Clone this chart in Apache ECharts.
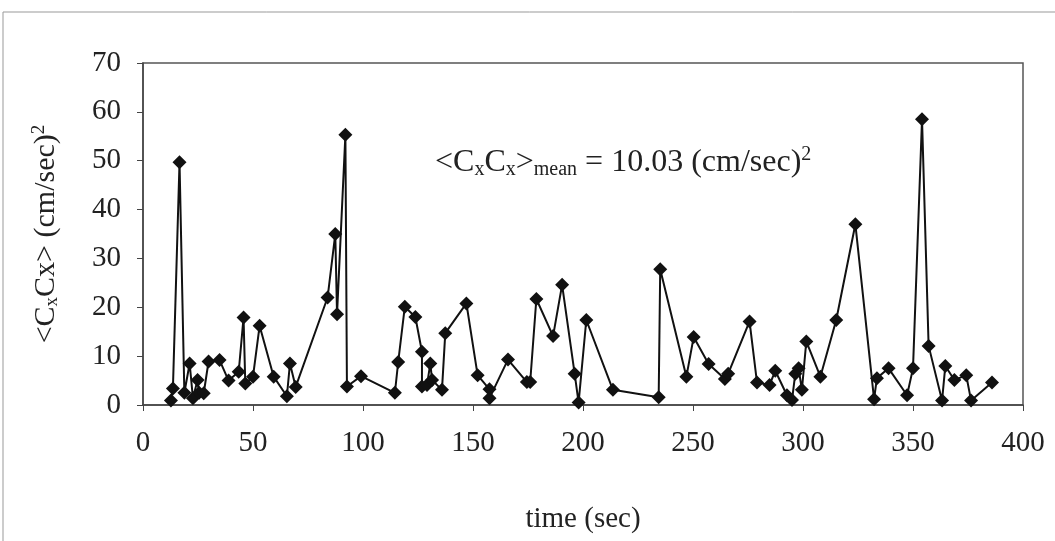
<!DOCTYPE html>
<html>
<head>
<meta charset="utf-8">
<script src="https://cdn.jsdelivr.net/npm/echarts@6/dist/echarts.min.js"></script>
<style>
  html, body { margin: 0; padding: 0; background: #fff; }
  #chart { width: 1055px; height: 541px; }
</style>
</head>
<body>
<div id="chart"></div>
<script>
// time (sec) and <CxCx> values
const times = [12.7, 13.6, 16.6, 18.8, 21.2, 22.7, 24.8, 25.5, 27.6, 29.8, 34.8, 38.9, 43.5, 45.7, 46.5, 50.0, 53.0, 59.4,
  65.4, 66.8, 69.4, 83.9, 87.4, 88.2, 92.0, 92.7, 99.1, 114.5, 116.0, 119.0, 123.8, 126.8, 126.8, 129.1, 130.6, 131.4,
  135.9, 137.4, 147.0, 152.1, 157.5, 157.5, 165.9, 174.5, 176.0, 178.8, 186.4, 190.5, 196.2, 198.0, 201.5, 213.6,
  234.4, 235.1, 247.0, 250.3, 257.1, 264.5, 266.0, 275.7, 279.1, 284.8, 287.4, 292.7, 295.0, 296.5, 298.0, 299.5,
  301.5, 307.9, 315.1, 323.8, 332.3, 333.6, 338.9, 347.3, 350.0, 354.1, 357.1, 363.2, 364.7, 368.8, 374.2, 376.4, 385.9];
const cxcx = [0.9, 3.4, 49.7, 2.5, 8.5, 1.4, 5.1, 2.5, 2.4, 8.9, 9.2, 5.0, 6.8, 17.9, 4.4, 5.8, 16.2, 5.8,
  1.8, 8.5, 3.7, 22.0, 35.0, 18.6, 55.3, 3.8, 5.9, 2.5, 8.8, 20.1, 18.0, 10.9, 3.8, 4.1, 8.5, 5.1,
  3.1, 14.7, 20.8, 6.1, 3.2, 1.4, 9.3, 4.7, 4.7, 21.7, 14.1, 24.6, 6.4, 0.5, 17.4, 3.1,
  1.6, 27.8, 5.8, 13.9, 8.4, 5.3, 6.4, 17.1, 4.6, 4.1, 7.0, 2.0, 1.0, 6.4, 7.5, 3.1,
  13.0, 5.8, 17.4, 37.0, 1.2, 5.5, 7.5, 2.0, 7.5, 58.5, 12.1, 0.9, 8.0, 5.1, 6.1, 0.9, 4.6];
const xTicks = [0, 50, 100, 150, 200, 250, 300, 350, 400];
const yTicks = [0, 10, 20, 30, 40, 50, 60, 70];

const points = times.map((t, i) => [t, cxcx[i]]);
const serif = '"Liberation Serif", "Times New Roman", serif';

const chart = echarts.init(document.getElementById('chart'));
chart.setOption({
  backgroundColor: '#fff',
  animation: false,
  grid: { left: 143, right: 32, top: 63, bottom: 136, show: true, borderColor: '#555', borderWidth: 1.5, backgroundColor: 'transparent' },
  xAxis: {
    type: 'value',
    min: xTicks[0], max: xTicks[xTicks.length - 1], interval: 50,
    axisLine: { lineStyle: { color: '#444', width: 1.5 } },
    axisTick: { show: true, length: 6, lineStyle: { color: '#444' } },
    splitLine: { show: false },
    axisLabel: { color: '#222', fontFamily: serif, fontSize: 29, margin: 24 },
    name: 'time (sec)', nameLocation: 'middle', nameGap: 100,
    nameTextStyle: { color: '#222', fontFamily: serif, fontSize: 29 }
  },
  yAxis: {
    type: 'value',
    min: yTicks[0], max: yTicks[yTicks.length - 1], interval: 10,
    axisLine: { show: true, lineStyle: { color: '#444', width: 1.5 } },
    axisTick: { show: true, length: 6, lineStyle: { color: '#444' } },
    splitLine: { show: false },
    axisLabel: { color: '#222', fontFamily: serif, fontSize: 29, margin: 22 }
  },
  graphic: [
    { type: 'rect', shape: { x: 3, y: 12, width: 1060, height: 540 }, style: { fill: 'none', stroke: '#999', lineWidth: 1 }, silent: true },
    {
      type: 'text', x: 46, y: 234, rotation: Math.PI / 2,
      style: {
        text: '<C{s|x}Cx> (cm/sec){sup|2}',
        fill: '#222', font: '30px ' + serif,
        align: 'center', verticalAlign: 'middle',
        rich: {
          s: { fontSize: 19, fontFamily: serif, padding: [12, 0, 0, 0], fill: '#222' },
          sup: { fontSize: 19, fontFamily: serif, padding: [0, 0, 14, 0], fill: '#222' }
        }
      }
    },
    {
      type: 'text', x: 435, y: 145,
      style: {
        text: '<C{s|x}C{s|x}>{s|mean} = 10.03 (cm/sec){sup|2}',
        fill: '#222', font: '32px ' + serif,
        rich: {
          s: { fontSize: 20, fontFamily: serif, padding: [14, 0, 0, 0], fill: '#222' },
          sup: { fontSize: 20, fontFamily: serif, padding: [0, 0, 16, 0], fill: '#222' }
        }
      }
    }
  ],
  series: [{
    type: 'line',
    data: points,
    symbol: 'diamond',
    symbolSize: 14,
    lineStyle: { color: '#111', width: 2 },
    itemStyle: { color: '#111' }
  }]
});
</script>
</body>
</html>
